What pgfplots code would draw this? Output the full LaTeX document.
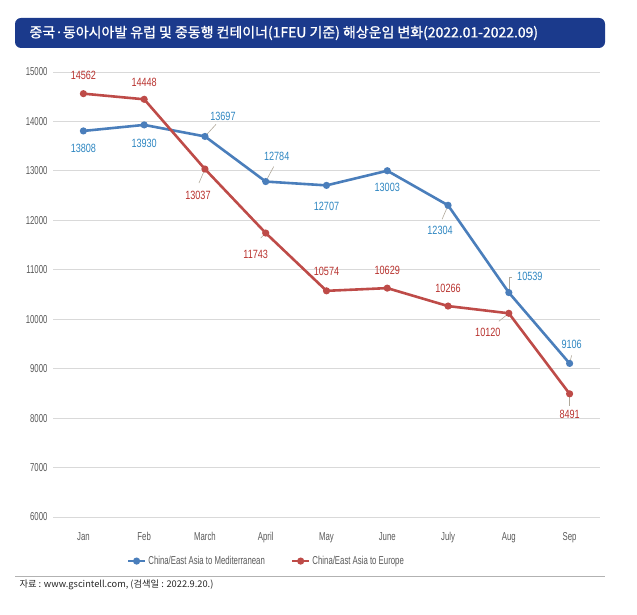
\documentclass[border=0pt]{standalone}
\usepackage{fontspec}
\setmainfont{Liberation Sans}
\newfontfamily\kr{Noto Sans CJK KR}
\newfontfamily\krb[FakeBold=1.2]{Noto Sans CJK KR}
\newfontfamily\nar[FakeStretch=0.76]{Liberation Sans}
\newfontfamily\narr[FakeStretch=0.68]{Liberation Sans}
\usepackage{pgfplots}
\pgfplotsset{compat=1.18}
\definecolor{navy}{HTML}{1B3A8C}
\definecolor{serA}{HTML}{4A7EBB}
\definecolor{serB}{HTML}{BE4B48}
\definecolor{labA}{HTML}{2E86C1}
\definecolor{labB}{HTML}{B8322E}
\definecolor{tickc}{HTML}{595959}
\definecolor{leadc}{HTML}{B0A89A}
\begin{document}
\begin{tikzpicture}
\path[use as bounding box] (0bp,0bp) rectangle (637bp,615bp);
\fill[navy, rounded corners=6bp] (15bp,567bp) rectangle (605bp,597bp);
\node[anchor=west, text=white, font=\krb\fontsize{14}{16}\selectfont] at (26bp,582bp) {중국·동아시아발 유럽 및 중동행 컨테이너(1FEU 기준) 해상운임 변화(2022.01-2022.09)};
\draw[gray!60, line width=0.8bp] (15bp,39bp) -- (605bp,39bp);
\node[anchor=west, font=\kr\fontsize{9.3}{11}\selectfont, text=black!85] at (16bp,30bp) {자료 : www.gscintell.com, (검색일 : 2022.9.20.)};
\begin{axis}[
  at={(53bp,98bp)}, anchor=south west, scale only axis,
  width=547bp, height=445bp,
  xmin=-0.5, xmax=8.5, ymin=6000, ymax=15000,
  xtick={0,...,8},
  xticklabels={Jan,Feb,March,April,May,June,July,Aug,Sep},
  ytick={6000,7000,...,15000},
  scaled y ticks=false,
  yticklabel style={/pgf/number format/fixed, /pgf/number format/1000 sep={}},
  ymajorgrids, grid style={draw=black!15, line width=0.8bp},
  axis line style={draw=none},
  major tick length=0pt,
  /pgf/number format/assume math mode=true,
  /pgf/number format/1000 sep={},
  tick label style={font=\narr\fontsize{11.5}{12}\selectfont, text=tickc},
  xticklabel style={yshift=-12bp},
  yticklabel style={xshift=-2bp},
  legend style={draw=none, at={(axis description cs:0.39,0)}, anchor=north, yshift=-35bp,
    font=\narr\fontsize{11.5}{12}\selectfont, text=tickc,
    /tikz/every even column/.append style={column sep=24bp}},
  legend columns=2,
  clip=false,
]
\addplot[serA, line width=2.6bp, mark=*, mark size=2.2bp] coordinates {
(0,13808) (1,13930) (2,13697) (3,12784) (4,12707) (5,13003) (6,12304) (7,10539) (8,9106)};
\addlegendentry{China/East Asia to Mediterranean}
\addplot[serB, line width=2.6bp, mark=*, mark size=2.2bp] coordinates {
(0,14562) (1,14448) (2,13037) (3,11743) (4,10574) (5,10629) (6,10266) (7,10120) (8,8491)};
\addlegendentry{China/East Asia to Europe}
% leader lines
\draw[leadc, line width=0.6bp] (axis cs:2,13697) -- ++(11bp,12bp);
\draw[leadc, line width=0.6bp] (axis cs:3,12784) -- ++(8bp,15bp);
\draw[leadc, line width=0.6bp] (axis cs:6,12304) -- ++(-6bp,-14bp);
\draw[leadc, line width=0.6bp] (axis cs:7,10539) -- ++(0bp,15bp) -- ++(3bp,0bp);
\draw[leadc, line width=0.6bp] (axis cs:8,9106) -- ++(2bp,8bp);
\draw[leadc, line width=0.6bp] (axis cs:2,13037) -- ++(-6bp,-14bp);
\draw[leadc, line width=0.6bp] (axis cs:3,11743) -- ++(-5bp,-5bp);
\draw[leadc, line width=0.6bp] (axis cs:7,10120) -- ++(-10bp,-8bp);
\draw[leadc, line width=0.6bp] (axis cs:8,8491) -- ++(0bp,-12bp);
% labels series A
\begin{scope}[every node/.style={font=\nar\fontsize{12}{13}\selectfont, text=labA, inner sep=1bp}]
\node at (axis cs:0,13808) [yshift=-17bp] {13808};
\node at (axis cs:1,13930) [yshift=-18bp] {13930};
\node at (axis cs:2,13697) [shift={(18bp,20bp)}] {13697};
\node at (axis cs:3,12784) [shift={(11bp,25bp)}] {12784};
\node at (axis cs:4,12707) [yshift=-21bp] {12707};
\node at (axis cs:5,13003) [yshift=-17bp] {13003};
\node at (axis cs:6,12304) [shift={(-8bp,-25bp)}] {12304};
\node at (axis cs:7,10539) [shift={(21bp,16bp)}] {10539};
\node at (axis cs:8,9106) [shift={(2bp,19bp)}] {9106};
\end{scope}
\begin{scope}[every node/.style={font=\nar\fontsize{12}{13}\selectfont, text=labB, inner sep=1bp}]
\node at (axis cs:0,14562) [yshift=18bp] {14562};
\node at (axis cs:1,14448) [yshift=17bp] {14448};
\node at (axis cs:2,13037) [shift={(-7bp,-26bp)}] {13037};
\node at (axis cs:3,11743) [shift={(-10bp,-21bp)}] {11743};
\node at (axis cs:4,10574) [yshift=19bp] {10574};
\node at (axis cs:5,10629) [yshift=18bp] {10629};
\node at (axis cs:6,10266) [yshift=18bp] {10266};
\node at (axis cs:7,10120) [shift={(-21bp,-19bp)}] {10120};
\node at (axis cs:8,8491) [yshift=-21bp] {8491};
\end{scope}
\end{axis}
\end{tikzpicture}
\end{document}
